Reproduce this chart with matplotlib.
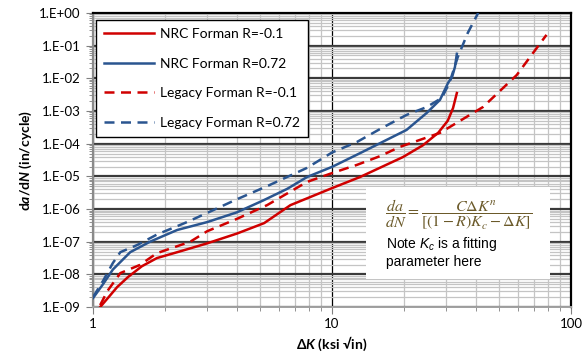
import numpy as np
import matplotlib
matplotlib.use("Agg")
import matplotlib.pyplot as plt
from matplotlib.ticker import LogLocator, FixedLocator, FuncFormatter, NullFormatter

plt.rcParams['font.family'] = ['Lato', 'DejaVu Sans']
plt.rcParams['mathtext.fontset'] = 'custom'
plt.rcParams['mathtext.rm'] = 'Liberation Sans'
plt.rcParams['mathtext.it'] = 'Liberation Sans:italic'
plt.rcParams['mathtext.bf'] = 'Lato:bold'
plt.rcParams['mathtext.bfit'] = 'Lato:italic:bold'

# -----------------------------
# Data (dK in ksi*sqrt(in), exponent of da/dN)
# -----------------------------
nrc_neg_x = [1.07, 1.16, 1.26, 1.40, 1.60, 1.85, 2.3, 3.0, 4.0, 5.2, 6.7, 10, 13.1, 19.8, 24.0, 27.8, 30.5, 32.1, 33.3]
nrc_neg_e = [-9.0, -8.7, -8.39, -8.08, -7.75, -7.50, -7.30, -7.05, -6.75, -6.43, -5.88, -5.36, -5.02, -4.41, -4.05, -3.67, -3.3, -2.91, -2.45]

nrc_pos_x = [1.0, 1.1, 1.21, 1.43, 1.73, 2.25, 3.0, 4.0, 5.14, 6.5, 7.86, 10, 13.1, 20.5, 24.9, 28.3, 30.6, 31.8, 32.7, 33.3]
nrc_pos_e = [-8.72, -8.3, -7.85, -7.32, -7.0, -6.64, -6.40, -6.1, -5.74, -5.38, -5.02, -4.71, -4.29, -3.58, -3.06, -2.66, -2.14, -1.96, -1.65, -1.25]

leg_neg_x = [1.07, 1.15, 1.30, 1.57, 1.85, 2.55, 3.0, 4.0, 5.35, 7.86, 10, 12.7, 15.9, 19.2, 28.3, 42.8, 59.3, 79]
leg_neg_e = [-8.94, -8.5, -7.96, -7.71, -7.35, -7.0, -6.68, -6.3, -5.88, -5.17, -4.90, -4.65, -4.38, -4.10, -3.67, -2.88, -1.90, -0.67]

leg_pos_x = [1.0, 1.1, 1.21, 1.30, 1.53, 1.85, 2.47, 3.0, 4.0, 5.35, 7.86, 10, 12.7, 15.9, 20.5, 24.9, 28.8, 31.0, 33.6, 37.0, 40.9]
leg_pos_e = [-8.69, -8.2, -7.65, -7.32, -7.10, -6.78, -6.40, -6.12, -5.70, -5.30, -4.74, -4.27, -3.95, -3.55, -3.12, -2.88, -2.60, -2.14, -1.35, -0.61, 0.0]

labels = ["NRC Forman R=-0.1", "NRC Forman R=0.72", "Legacy Forman R=-0.1", "Legacy Forman R=0.72"]

red = '#d00000'
blue = '#2a5590'

fig = plt.figure(figsize=(5.82, 3.6), dpi=100)
ax = fig.add_axes([0.160, 0.147, 0.821, 0.817])
ax.set_xscale('log')
ax.set_yscale('log')
ax.set_xlim(1, 100)
ax.set_ylim(1e-9, 1)

# grid
ax.yaxis.set_major_locator(LogLocator(base=10, numticks=20))
ax.yaxis.set_minor_locator(LogLocator(base=10, subs=np.arange(2, 10), numticks=200))
ax.xaxis.set_major_locator(FixedLocator([1, 10, 100]))
ax.xaxis.set_minor_locator(LogLocator(base=10, subs=np.arange(2, 10), numticks=20))
ax.grid(which='minor', axis='both', color='#c4c4c4', lw=0.9, zorder=0)
ax.grid(which='major', axis='y', color='#3a3a3a', lw=1.6, zorder=0)
ax.grid(which='major', axis='x', color='black', lw=0.9, zorder=0)

ax.yaxis.set_major_formatter(FuncFormatter(lambda v, p: "1.E%+03d" % int(round(np.log10(v)))))
ax.yaxis.set_minor_formatter(NullFormatter())
ax.xaxis.set_major_formatter(FuncFormatter(lambda v, p: "%d" % v))
ax.xaxis.set_minor_formatter(NullFormatter())
ax.tick_params(which='major', direction='out', length=5, color='#808080', labelsize=9.5, pad=4)
ax.tick_params(which='minor', direction='out', length=3, color='#808080')
ax.tick_params(axis='x', which='major', pad=3)

for s in ['top', 'right']:
    ax.spines[s].set_color('black')
    ax.spines[s].set_linewidth(1.6)
ax.spines['left'].set_color('#8a8a8a')
ax.spines['left'].set_linewidth(1.6)
ax.spines['bottom'].set_color('#a0a0a0')
ax.spines['bottom'].set_linewidth(1.4)

# curves
dash = (0, (4, 2.6))
ax.plot(nrc_neg_x, 10.0 ** np.array(nrc_neg_e), color=red, lw=1.8, label=labels[0], zorder=3)
ax.plot(nrc_pos_x, 10.0 ** np.array(nrc_pos_e), color=blue, lw=1.8, label=labels[1], zorder=3)
ax.plot(leg_neg_x, 10.0 ** np.array(leg_neg_e), color=red, lw=1.8, ls=dash, label=labels[2], zorder=3)
ax.plot(leg_pos_x, 10.0 ** np.array(leg_pos_e), color=blue, lw=1.8, ls=dash, label=labels[3], zorder=3)

leg = ax.legend(loc='upper left', bbox_to_anchor=(0.006, 0.977), borderaxespad=0,
                fontsize=10, frameon=True, fancybox=False, framealpha=1,
                edgecolor='black', labelspacing=1.27, handlelength=3.6,
                handletextpad=0.4, borderpad=0.6)
leg.get_frame().set_linewidth(1.0)
leg.set_zorder(5)

# formula box
box = plt.Rectangle((366 / 582, 1 - 279 / 360), (550 - 366) / 582, (279 - 187) / 360,
                    transform=fig.transFigure, facecolor='white', edgecolor='none', zorder=4)
fig.patches.append(box)
fig.text(385 / 582, 1 - 215 / 360, r"$\dfrac{da}{dN}=\dfrac{C\Delta K^n}{[(1-R)K_c-\Delta K]}$",
         color='#6b5a2a', fontsize=11.5, va='center', ha='left', zorder=6,
         math_fontfamily='stix')
fig.text(386 / 582, 1 - 248 / 360, r"Note $K_c$ is a fitting", fontsize=10,
         family='Liberation Sans', va='baseline', ha='left', zorder=6)
fig.text(386 / 582, 1 - 266 / 360, "parameter here", fontsize=10,
         family='Liberation Sans', va='baseline', ha='left', zorder=6)

ax.set_xlabel("\u0394" + r"$\boldsymbol{K}$" + " (ksi \u221ain)", fontsize=10, fontweight='bold', labelpad=3)
ax.set_ylabel(r"d$\boldsymbol{a}$/d$\boldsymbol{N}$ (in/cycle)", fontsize=10, fontweight='bold', labelpad=4)

fig.savefig("out.png", dpi=100)
